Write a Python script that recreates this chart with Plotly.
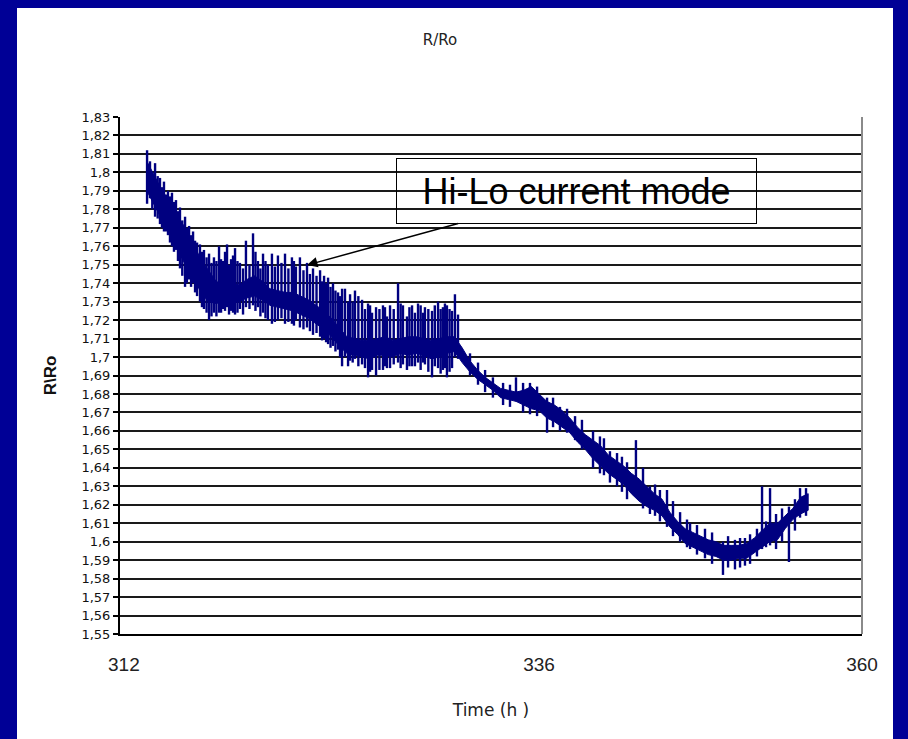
import plotly.graph_objects as go

# ---------------- data ----------------
# central "body" band of the R/Ro record, sampled every 0.5 h
body_t = [313.5, 314.0, 314.5, 315.0, 315.5, 316.0, 316.5, 317.0, 317.5, 318.0,
          318.5, 319.0, 319.5, 320.0, 320.5, 321.0, 321.5, 322.0, 322.5, 323.0,
          323.5, 324.0, 324.5, 325.0, 325.5, 326.0, 326.5, 327.0, 327.5, 328.0,
          328.5, 329.0, 329.5, 330.0, 330.5, 331.0, 331.5, 332.0, 332.5, 333.0,
          333.5, 334.0, 334.5, 335.0, 335.5, 336.0, 336.5, 337.0, 337.5, 338.0,
          338.5, 339.0, 339.5, 340.0, 340.5, 341.0, 341.5, 342.0, 342.5, 343.0,
          343.5, 344.0, 344.5, 345.0, 345.5, 346.0, 346.5, 347.0, 347.5, 348.0,
          348.5, 349.0, 349.5, 350.0, 350.5, 351.0, 351.5, 352.0, 352.5, 353.0,
          353.5, 354.0, 354.5, 355.0, 355.5, 356.0, 356.5]
body_top = [1.806, 1.798, 1.790, 1.784, 1.776, 1.770, 1.762, 1.753, 1.747, 1.741,
            1.739, 1.740, 1.739, 1.742, 1.744, 1.741, 1.737, 1.736, 1.735, 1.735,
            1.733, 1.731, 1.728, 1.725, 1.721, 1.716, 1.711, 1.710, 1.709, 1.709,
            1.710, 1.711, 1.709, 1.710, 1.711, 1.711, 1.710, 1.709, 1.710, 1.711,
            1.711, 1.705, 1.698, 1.693, 1.689, 1.686, 1.683, 1.682, 1.681, 1.682,
            1.684, 1.680, 1.676, 1.674, 1.671, 1.667, 1.662, 1.658, 1.655, 1.652,
            1.647, 1.644, 1.641, 1.637, 1.634, 1.630, 1.626, 1.623, 1.616, 1.611,
            1.607, 1.605, 1.603, 1.601, 1.600, 1.598, 1.598, 1.598, 1.599, 1.602,
            1.606, 1.610, 1.610, 1.614, 1.618, 1.624, 1.626]
body_bot = [1.790, 1.782, 1.774, 1.768, 1.758, 1.750, 1.744, 1.735, 1.730, 1.729,
            1.730, 1.729, 1.730, 1.732, 1.733, 1.731, 1.728, 1.727, 1.726, 1.725,
            1.723, 1.721, 1.718, 1.715, 1.711, 1.706, 1.702, 1.701, 1.700, 1.699,
            1.701, 1.701, 1.700, 1.702, 1.701, 1.702, 1.701, 1.699, 1.700, 1.702,
            1.703, 1.697, 1.692, 1.688, 1.685, 1.682, 1.678, 1.677, 1.676, 1.674,
            1.672, 1.671, 1.667, 1.665, 1.662, 1.659, 1.654, 1.650, 1.645, 1.641,
            1.637, 1.634, 1.631, 1.626, 1.622, 1.619, 1.617, 1.614, 1.608, 1.604,
            1.599, 1.597, 1.595, 1.593, 1.592, 1.590, 1.590, 1.591, 1.591, 1.594,
            1.597, 1.600, 1.601, 1.607, 1.612, 1.615, 1.617]

# individual Hi-Lo excursions (time, upper value, lower value)
spike_t = [313.51, 313.70, 314.03, 314.35, 314.61, 314.87, 315.13, 315.39, 315.65, 315.98,
           316.24, 316.50, 316.76, 316.95, 317.21, 317.54, 317.86, 318.19, 318.45, 318.71,
           318.97, 319.23, 319.55, 319.94, 320.40, 320.72, 321.05, 321.37, 321.63, 322.02,
           322.48, 322.93, 323.19, 323.45, 323.91, 324.30, 324.76, 325.02, 325.28, 325.60,
           325.93, 326.19, 326.38, 326.58, 326.71, 327.03, 327.49, 327.88, 328.14, 328.40,
           328.85, 329.11, 329.31, 329.83, 330.15, 330.41, 330.74, 330.93, 331.13, 331.45,
           331.58, 332.04, 332.43, 332.75, 333.01, 333.34, 333.53, 333.73,
           337.50, 339.52, 340.36, 341.34, 342.51, 343.61, 344.72, 345.30, 346.21, 347.32,
           348.82, 350.96, 351.74, 352.39, 353.50, 354.02, 355.25, 355.97, 356.36,
           # smaller ragged excursions along the descending part
           334.51, 335.03, 335.49, 336.00, 336.66, 337.11, 337.96, 338.41, 338.87, 339.91,
           340.82, 341.79, 342.96, 343.22, 344.07, 344.39, 345.76, 346.54, 346.86, 347.71,
           348.17, 348.62, 349.27, 349.79, 350.25, 351.29, 352.07, 352.72, 353.17, 353.76,
           354.41, 354.80, 355.64,
           # further excursions in the early / Hi-Lo part
           313.85, 314.20, 314.48, 314.74, 315.00, 315.26, 315.52, 315.80, 316.10, 316.37,
           316.63, 317.08, 317.38, 317.70, 318.02, 318.32, 318.58, 318.84, 319.10, 319.39,
           319.75, 320.17, 320.56, 320.88, 321.21, 321.82, 322.25, 322.70, 323.06, 323.68,
           324.10, 324.53, 324.89, 325.15, 325.44, 325.76, 326.06, 326.88, 327.25, 327.68,
           328.01, 328.62, 328.98, 329.55, 330.00, 330.57, 331.30, 331.80, 332.22, 332.60,
           332.88, 333.18]
spike_hi = [1.812, 1.806, 1.805, 1.797, 1.795, 1.790, 1.789, 1.785, 1.781, 1.776,
            1.771, 1.768, 1.762, 1.761, 1.758, 1.756, 1.754, 1.760, 1.752, 1.761,
            1.753, 1.759, 1.751, 1.763, 1.767, 1.752, 1.756, 1.750, 1.756, 1.755,
            1.756, 1.754, 1.749, 1.754, 1.751, 1.748, 1.747, 1.744, 1.743, 1.740,
            1.735, 1.737, 1.737, 1.730, 1.734, 1.736, 1.731, 1.729, 1.724, 1.727,
            1.728, 1.722, 1.728, 1.740, 1.728, 1.722, 1.728, 1.724, 1.729, 1.724,
            1.727, 1.725, 1.730, 1.727, 1.728, 1.725, 1.734, 1.723,
            1.689, 1.678, 1.673, 1.668, 1.660, 1.649, 1.643, 1.655, 1.630, 1.628,
            1.610, 1.600, 1.601, 1.602, 1.630, 1.629, 1.619, 1.629, 1.629,
            1.702, 1.697, 1.693, 1.689, 1.686, 1.685, 1.686, 1.686, 1.684, 1.678,
            1.672, 1.666, 1.657, 1.656, 1.648, 1.646, 1.640, 1.631, 1.628, 1.622,
            1.616, 1.612, 1.609, 1.607, 1.605, 1.603, 1.602, 1.604, 1.607, 1.611,
            1.615, 1.618, 1.623,
            1.800, 1.798, 1.792, 1.788, 1.787, 1.784, 1.779, 1.774, 1.770, 1.766,
            1.763, 1.757, 1.754, 1.751, 1.752, 1.753, 1.757, 1.750, 1.755, 1.752,
            1.748, 1.750, 1.757, 1.748, 1.752, 1.749, 1.751, 1.748, 1.752, 1.747,
            1.745, 1.744, 1.741, 1.740, 1.738, 1.736, 1.733, 1.730, 1.733, 1.726,
            1.728, 1.726, 1.727, 1.726, 1.729, 1.727, 1.728, 1.726, 1.728, 1.726,
            1.729, 1.726]
spike_lo = [1.783, 1.786, 1.776, 1.772, 1.768, 1.766, 1.760, 1.758, 1.748, 1.738,
            1.742, 1.740, 1.733, 1.730, 1.726, 1.720, 1.724, 1.724, 1.726, 1.727,
            1.725, 1.723, 1.726, 1.727, 1.728, 1.727, 1.724, 1.720, 1.718, 1.720,
            1.718, 1.718, 1.720, 1.716, 1.716, 1.712, 1.711, 1.710, 1.707, 1.706,
            1.704, 1.695, 1.700, 1.695, 1.698, 1.699, 1.696, 1.689, 1.693, 1.690,
            1.693, 1.694, 1.694, 1.697, 1.696, 1.693, 1.695, 1.695, 1.697, 1.697,
            1.696, 1.689, 1.694, 1.693, 1.689, 1.694, 1.700, 1.699,
            1.676, 1.659, 1.660, 1.655, 1.640, 1.632, 1.623, 1.626, 1.615, 1.608,
            1.596, 1.582, 1.585, 1.587, 1.596, 1.598, 1.589, 1.613, 1.614,
            1.690, 1.685, 1.681, 1.678, 1.674, 1.673, 1.670, 1.669, 1.668, 1.662,
            1.659, 1.650, 1.637, 1.636, 1.630, 1.627, 1.618, 1.614, 1.611, 1.603,
            1.600, 1.597, 1.593, 1.591, 1.588, 1.586, 1.586, 1.588, 1.592, 1.597,
            1.596, 1.600, 1.606,
            1.780, 1.775, 1.770, 1.768, 1.762, 1.757, 1.752, 1.744, 1.740, 1.738,
            1.735, 1.727, 1.724, 1.722, 1.722, 1.724, 1.725, 1.723, 1.724, 1.724,
            1.723, 1.726, 1.725, 1.722, 1.721, 1.719, 1.721, 1.719, 1.717, 1.715,
            1.714, 1.713, 1.709, 1.708, 1.705, 1.703, 1.700, 1.697, 1.695, 1.694,
            1.692, 1.693, 1.695, 1.696, 1.694, 1.695, 1.693, 1.692, 1.695, 1.691,
            1.694, 1.692]

x_tick_pos = [312, 339, 360]
x_tick_text = ["312", "336", "360"]

NAVY = "#000080"

fig = go.Figure()

# body band
fig.add_trace(go.Scatter(
    x=body_t + body_t[::-1],
    y=body_top + body_bot[::-1],
    mode="lines", fill="toself", fillcolor=NAVY,
    line=dict(color=NAVY, width=1),
    hoverinfo="skip",
))

# spikes
sx, sy = [], []
for t, hi, lo in zip(spike_t, spike_hi, spike_lo):
    sx += [t, t, None]
    sy += [hi, lo, None]
fig.add_trace(go.Scatter(x=sx, y=sy, mode="lines",
                         line=dict(color=NAVY, width=2.4), hoverinfo="skip"))

fig.update_layout(
    width=908, height=739,
    paper_bgcolor="#000096", plot_bgcolor="white",
    margin=dict(l=120, r=46, t=117, b=105),
    separators=", ",
    showlegend=False,
    title=dict(text="R/Ro", x=440 / 908, xanchor="center", y=1 - 40 / 739, yanchor="middle",
               font=dict(family="DejaVu Sans", size=15, color="#222")),
    xaxis=dict(range=[311.75, 360], tickvals=x_tick_pos, ticktext=x_tick_text,
               ticks="", showgrid=False, zeroline=False,
               showline=True, linecolor="black", linewidth=2,
               tickfont=dict(family="Liberation Sans", size=19, color="#222"),
               ticklabelstandoff=12,
               title=dict(text="Time (h )", standoff=30,
                          font=dict(family="DejaVu Sans", size=17, color="#222"))),
    yaxis=dict(range=[1.55, 1.83], tick0=1.55, dtick=0.01,
               showgrid=True, gridcolor="#1a1a1a", gridwidth=2,
               ticks="outside", ticklen=5, tickcolor="black", tickwidth=1.5,
               showline=True, linecolor="black", linewidth=2, zeroline=False,
               tickfont=dict(family="DejaVu Sans", size=13, color="#111"),
               title=dict(text="<b>R\\Ro</b>", standoff=20,
                          font=dict(family="Liberation Sans", size=17, color="#111"))),
    shapes=[
        dict(type="rect", xref="paper", yref="paper",
             x0=(17 - 120) / 742, x1=(893 - 120) / 742,
             y0=-0.3, y1=(634 - 8) / 517,
             fillcolor="white", line=dict(width=0), layer="below"),
        dict(type="line", xref="paper", yref="paper", x0=1, x1=1, y0=0, y1=1,
             line=dict(color="#8a8a8a", width=2)),
    ],
    annotations=[dict(
        x=323.91, y=1.7498, xref="x", yref="y",
        ax=341.43, ay=1.7899, axref="x", ayref="y",
        text="Hi-Lo current mode", showarrow=True,
        arrowhead=2, arrowsize=1.4, arrowwidth=1.5, arrowcolor="black",
        font=dict(family="Liberation Sans", size=36, color="black"),
        bordercolor="black", borderwidth=1, borderpad=0,
        width=359, height=64, bgcolor="rgba(0,0,0,0)",
    )],
)

fig.write_html(
    "out.html",
    config={"displayModeBar": False},
    post_script="document.body.style.margin='0';document.body.style.overflow='hidden';"
                "document.body.style.background='#000096';",
)
